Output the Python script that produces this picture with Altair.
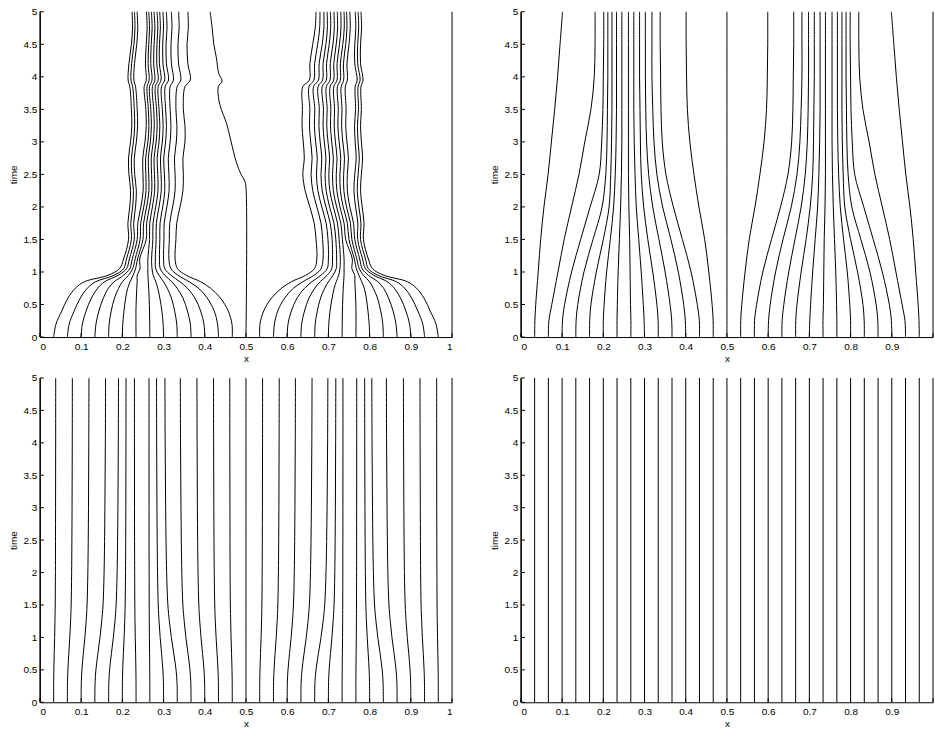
import altair as alt
import pandas as pd

# ---------------- shared ----------------
X_TICKS = [0, 0.1, 0.2, 0.3, 0.4, 0.5, 0.6, 0.7, 0.8, 0.9, 1]
Y_TICKS = [0, 0.5, 1, 1.5, 2, 2.5, 3, 3.5, 4, 4.5, 5]
BOUNDARY_X = [0.0, 1.0]

# ---------------- panel 1 (top-left) ----------------
P1_T = [0, 0.2, 0.4, 0.6, 0.75, 0.85, 0.95, 1.05, 1.2, 1.5, 1.75, 2.0, 2.25, 2.5, 2.75,
        3.0, 3.25, 3.5, 3.85, 3.95, 4.2, 4.5, 4.75, 5.0]
# rows = times, columns = mesh lines k=1..14
P1_LEFT = [
    [0.0333, 0.0667, 0.1, 0.1333, 0.1667, 0.2, 0.2333, 0.2667, 0.3, 0.3333, 0.3667, 0.4, 0.4333, 0.4667],
    [0.039, 0.071, 0.103, 0.136, 0.168, 0.201, 0.233, 0.2665, 0.299, 0.332, 0.365, 0.398, 0.431, 0.466],
    [0.053, 0.083, 0.112, 0.143, 0.173, 0.204, 0.233, 0.266, 0.296, 0.327, 0.358, 0.390, 0.423, 0.457],
    [0.068, 0.098, 0.125, 0.154, 0.181, 0.208, 0.234, 0.265, 0.291, 0.319, 0.347, 0.376, 0.406, 0.438],
    [0.086, 0.115, 0.140, 0.166, 0.191, 0.213, 0.235, 0.264, 0.286, 0.309, 0.333, 0.358, 0.385, 0.414],
    [0.108, 0.135, 0.157, 0.180, 0.200, 0.219, 0.236, 0.263, 0.281, 0.300, 0.320, 0.340, 0.362, 0.390],
    [0.165, 0.180, 0.190, 0.203, 0.215, 0.226, 0.236, 0.262, 0.275, 0.289, 0.303, 0.318, 0.335, 0.355],
    [0.193, 0.203, 0.210, 0.218, 0.225, 0.232, 0.243, 0.262, 0.272, 0.281, 0.292, 0.303, 0.318, 0.334],
    [0.203, 0.210, 0.217, 0.224, 0.231, 0.237, 0.242, 0.262, 0.271, 0.280, 0.290, 0.300, 0.313, 0.328],
    [0.215, 0.222, 0.229, 0.236, 0.243, 0.250, 0.258, 0.266, 0.274, 0.282, 0.291, 0.301, 0.314, 0.330],
    [0.2135, 0.2205, 0.2275, 0.2375, 0.2445, 0.2515, 0.259, 0.2665, 0.2745, 0.2825, 0.2915, 0.3015, 0.315, 0.332],
    [0.218, 0.225, 0.232, 0.245, 0.252, 0.259, 0.266, 0.273, 0.281, 0.289, 0.298, 0.308, 0.322, 0.340],
    [0.220, 0.227, 0.234, 0.2505, 0.2575, 0.2645, 0.2715, 0.2785, 0.2865, 0.2945, 0.303, 0.3135, 0.328, 0.347],
    [0.216, 0.223, 0.230, 0.250, 0.257, 0.264, 0.271, 0.278, 0.286, 0.294, 0.302, 0.313, 0.328, 0.348],
    [0.215, 0.222, 0.229, 0.2495, 0.2565, 0.263, 0.270, 0.277, 0.2845, 0.2925, 0.3005, 0.3115, 0.3265, 0.347],
    [0.220, 0.227, 0.234, 0.255, 0.262, 0.268, 0.275, 0.282, 0.289, 0.297, 0.305, 0.316, 0.331, 0.352],
    [0.223, 0.230, 0.237, 0.258, 0.2645, 0.2705, 0.2775, 0.2845, 0.291, 0.299, 0.307, 0.318, 0.3325, 0.352],
    [0.222, 0.229, 0.236, 0.257, 0.263, 0.269, 0.276, 0.283, 0.289, 0.297, 0.305, 0.316, 0.330, 0.348],
    [0.218, 0.225, 0.232, 0.253, 0.260, 0.266, 0.273, 0.280, 0.287, 0.295, 0.304, 0.316, 0.333, 0.352],
    [0.214, 0.221, 0.228, 0.258, 0.265, 0.272, 0.279, 0.287, 0.294, 0.303, 0.312, 0.324, 0.342, 0.365],
    [0.216, 0.2225, 0.2295, 0.256, 0.2625, 0.269, 0.276, 0.2835, 0.290, 0.2985, 0.307, 0.319, 0.3365, 0.359],
    [0.222, 0.228, 0.235, 0.258, 0.264, 0.270, 0.277, 0.284, 0.290, 0.298, 0.306, 0.318, 0.335, 0.357],
    [0.2248, 0.2307, 0.2374, 0.2602, 0.266, 0.2723, 0.279, 0.2861, 0.2923, 0.2999, 0.3084, 0.3205, 0.3378, 0.3601],
    [0.2236, 0.2293, 0.2358, 0.2584, 0.264, 0.2705, 0.2769, 0.2842, 0.2906, 0.2987, 0.3068, 0.3189, 0.3366, 0.3592],
]
# rows = times, columns = mesh lines k=16..29
P1_RIGHT = [
    [0.5333, 0.5667, 0.6, 0.6333, 0.6667, 0.7, 0.7333, 0.7667, 0.8, 0.8333, 0.8667, 0.9, 0.9333, 0.9667],
    [0.534, 0.569, 0.602, 0.635, 0.668, 0.701, 0.7335, 0.767, 0.799, 0.832, 0.864, 0.897, 0.929, 0.961],
    [0.543, 0.577, 0.610, 0.642, 0.673, 0.704, 0.734, 0.767, 0.796, 0.827, 0.857, 0.888, 0.917, 0.947],
    [0.562, 0.594, 0.624, 0.653, 0.681, 0.709, 0.735, 0.766, 0.792, 0.819, 0.846, 0.875, 0.902, 0.932],
    [0.586, 0.615, 0.642, 0.667, 0.691, 0.714, 0.736, 0.765, 0.787, 0.809, 0.834, 0.860, 0.885, 0.914],
    [0.610, 0.638, 0.660, 0.680, 0.700, 0.719, 0.737, 0.764, 0.781, 0.800, 0.820, 0.843, 0.865, 0.892],
    [0.645, 0.665, 0.682, 0.697, 0.711, 0.725, 0.738, 0.764, 0.774, 0.785, 0.797, 0.810, 0.820, 0.835],
    [0.666, 0.682, 0.697, 0.708, 0.719, 0.728, 0.738, 0.757, 0.768, 0.775, 0.782, 0.790, 0.797, 0.807],
    [0.672, 0.687, 0.700, 0.710, 0.720, 0.729, 0.738, 0.758, 0.763, 0.769, 0.776, 0.783, 0.790, 0.797],
    [0.670, 0.686, 0.699, 0.709, 0.718, 0.726, 0.734, 0.742, 0.750, 0.757, 0.764, 0.771, 0.778, 0.785],
    [0.6655, 0.682, 0.6945, 0.7045, 0.7135, 0.722, 0.730, 0.738, 0.746, 0.7535, 0.761, 0.7715, 0.779, 0.7865],
    [0.655, 0.672, 0.684, 0.694, 0.703, 0.712, 0.720, 0.728, 0.736, 0.744, 0.752, 0.766, 0.774, 0.782],
    [0.6435, 0.662, 0.6745, 0.685, 0.6945, 0.7035, 0.712, 0.7205, 0.729, 0.7375, 0.746, 0.762, 0.770, 0.778],
    [0.638, 0.658, 0.671, 0.682, 0.692, 0.701, 0.710, 0.719, 0.728, 0.737, 0.746, 0.764, 0.772, 0.780],
    [0.6415, 0.6605, 0.673, 0.684, 0.694, 0.703, 0.712, 0.721, 0.730, 0.739, 0.7485, 0.7675, 0.775, 0.783],
    [0.639, 0.657, 0.669, 0.680, 0.690, 0.699, 0.708, 0.717, 0.726, 0.735, 0.745, 0.765, 0.772, 0.780],
    [0.636, 0.654, 0.666, 0.677, 0.687, 0.696, 0.705, 0.714, 0.723, 0.732, 0.742, 0.7635, 0.7705, 0.778],
    [0.637, 0.655, 0.667, 0.678, 0.688, 0.697, 0.706, 0.715, 0.724, 0.733, 0.743, 0.766, 0.773, 0.780],
    [0.638, 0.653, 0.664, 0.675, 0.685, 0.695, 0.704, 0.713, 0.722, 0.731, 0.741, 0.765, 0.772, 0.779],
    [0.654, 0.665, 0.676, 0.686, 0.695, 0.704, 0.713, 0.721, 0.729, 0.737, 0.746, 0.770, 0.777, 0.784],
    [0.655, 0.6665, 0.6775, 0.687, 0.6955, 0.7045, 0.713, 0.721, 0.729, 0.7365, 0.745, 0.764, 0.771, 0.778],
    [0.662, 0.674, 0.685, 0.694, 0.702, 0.711, 0.719, 0.727, 0.735, 0.742, 0.750, 0.764, 0.771, 0.778],
    [0.668, 0.6788, 0.689, 0.6975, 0.7055, 0.7143, 0.7223, 0.7305, 0.7385, 0.745, 0.753, 0.7665, 0.7735, 0.7805],
    [0.670, 0.6795, 0.689, 0.697, 0.705, 0.7135, 0.7215, 0.730, 0.738, 0.744, 0.752, 0.765, 0.772, 0.779],
]
# centre mesh line (k=15)
P1_MID_T = [0, 2.3, 2.4, 2.5, 2.7, 3.0, 3.3, 3.5, 3.65, 3.85, 3.93, 4.05, 4.3, 4.5, 4.75, 5.0]
P1_MID_X = [0.5, 0.5, 0.497, 0.488, 0.476, 0.464, 0.452, 0.440, 0.434, 0.433, 0.442, 0.434, 0.428, 0.422, 0.418, 0.413]

# ---------------- panel 2 (top-right) ----------------
P2_T = [0, 0.25, 0.5, 1, 1.5, 2, 2.5, 3, 3.5, 4, 4.5, 5]
# one row per mesh line (k=1..29)
P2_LINES = [
    [0.0333, 0.034, 0.036, 0.042, 0.048, 0.056, 0.066, 0.074, 0.082, 0.089, 0.095, 0.101],
    [0.0667, 0.068, 0.075, 0.090, 0.105, 0.123, 0.141, 0.155, 0.170, 0.178, 0.180, 0.180],
    [0.1, 0.101, 0.106, 0.123, 0.145, 0.168, 0.190, 0.196, 0.199, 0.200, 0.201, 0.201],
    [0.1333, 0.134, 0.138, 0.153, 0.175, 0.197, 0.206, 0.209, 0.210, 0.211, 0.211, 0.211],
    [0.1667, 0.167, 0.170, 0.183, 0.200, 0.214, 0.218, 0.220, 0.221, 0.221, 0.221, 0.221],
    [0.2, 0.2, 0.202, 0.208, 0.217, 0.225, 0.229, 0.231, 0.232, 0.232, 0.232, 0.232],
    [0.2333, 0.2333, 0.234, 0.236, 0.239, 0.242, 0.244, 0.245, 0.245, 0.245, 0.245, 0.245],
    [0.2667, 0.267, 0.266, 0.265, 0.264, 0.262, 0.261, 0.261, 0.261, 0.261, 0.261, 0.261],
    [0.3, 0.299, 0.297, 0.292, 0.286, 0.280, 0.277, 0.275, 0.274, 0.274, 0.274, 0.274],
    [0.3333, 0.333, 0.330, 0.320, 0.308, 0.298, 0.292, 0.290, 0.289, 0.288, 0.288, 0.288],
    [0.3667, 0.366, 0.362, 0.350, 0.335, 0.320, 0.310, 0.305, 0.303, 0.302, 0.302, 0.302],
    [0.4, 0.399, 0.395, 0.382, 0.364, 0.344, 0.330, 0.323, 0.320, 0.318, 0.318, 0.318],
    [0.4333, 0.433, 0.428, 0.413, 0.392, 0.370, 0.352, 0.343, 0.340, 0.339, 0.338, 0.338],
    [0.4667, 0.4665, 0.464, 0.456, 0.446, 0.432, 0.420, 0.410, 0.404, 0.402, 0.401, 0.401],
    [0.5, 0.5, 0.5, 0.5, 0.5, 0.5, 0.5, 0.5, 0.5, 0.5, 0.5, 0.5],
    [0.5333, 0.5335, 0.536, 0.544, 0.554, 0.568, 0.580, 0.590, 0.596, 0.598, 0.599, 0.599],
    [0.5667, 0.567, 0.572, 0.587, 0.608, 0.630, 0.648, 0.657, 0.660, 0.661, 0.662, 0.662],
    [0.6, 0.601, 0.605, 0.618, 0.636, 0.656, 0.670, 0.677, 0.680, 0.682, 0.682, 0.682],
    [0.6333, 0.634, 0.638, 0.650, 0.665, 0.680, 0.690, 0.695, 0.697, 0.698, 0.698, 0.698],
    [0.6667, 0.667, 0.670, 0.680, 0.692, 0.702, 0.708, 0.710, 0.711, 0.712, 0.712, 0.712],
    [0.7, 0.701, 0.703, 0.708, 0.714, 0.720, 0.723, 0.725, 0.726, 0.726, 0.726, 0.726],
    [0.7333, 0.733, 0.734, 0.735, 0.736, 0.738, 0.739, 0.739, 0.739, 0.739, 0.739, 0.739],
    [0.7667, 0.7667, 0.766, 0.764, 0.761, 0.758, 0.756, 0.755, 0.755, 0.755, 0.755, 0.755],
    [0.8, 0.8, 0.798, 0.792, 0.783, 0.775, 0.771, 0.769, 0.768, 0.768, 0.768, 0.768],
    [0.8333, 0.833, 0.830, 0.817, 0.800, 0.786, 0.782, 0.780, 0.779, 0.779, 0.779, 0.779],
    [0.8667, 0.866, 0.862, 0.847, 0.825, 0.803, 0.794, 0.791, 0.790, 0.789, 0.789, 0.789],
    [0.9, 0.899, 0.894, 0.877, 0.855, 0.832, 0.810, 0.804, 0.801, 0.800, 0.799, 0.799],
    [0.9333, 0.932, 0.925, 0.910, 0.895, 0.877, 0.859, 0.845, 0.830, 0.822, 0.820, 0.820],
    [0.9667, 0.966, 0.964, 0.958, 0.952, 0.944, 0.934, 0.926, 0.918, 0.911, 0.905, 0.899],
]

# ---------------- panel 3 (bottom-left) ----------------
P3_T = [0, 0.3, 0.5, 0.75, 1.0, 1.25, 1.5, 2.0, 3.0, 4.0, 5.0]
P3_LINES = [
    [0.0333, 0.0334, 0.0338, 0.0347, 0.0357, 0.0365, 0.0371, 0.0376, 0.0380, 0.0382, 0.0383],
    [0.0667, 0.0669, 0.0679, 0.0701, 0.0725, 0.0744, 0.0758, 0.0770, 0.0780, 0.0785, 0.0787],
    [0.1, 0.1004, 0.1019, 0.1053, 0.1091, 0.1122, 0.1144, 0.1163, 0.1179, 0.1186, 0.119],
    [0.1333, 0.1338, 0.1359, 0.1406, 0.1458, 0.1499, 0.1531, 0.1557, 0.1577, 0.1588, 0.1593],
    [0.1667, 0.1672, 0.1691, 0.1734, 0.1782, 0.1821, 0.1849, 0.1873, 0.1893, 0.1902, 0.1907],
    [0.2, 0.2002, 0.2009, 0.2025, 0.2043, 0.2058, 0.2068, 0.2077, 0.2085, 0.2088, 0.209],
    [0.2333, 0.2332, 0.2329, 0.2322, 0.2314, 0.2307, 0.2303, 0.2299, 0.2295, 0.2294, 0.2293],
    [0.2667, 0.2667, 0.2665, 0.2661, 0.2657, 0.2654, 0.2652, 0.2650, 0.2648, 0.2647, 0.2647],
    [0.3, 0.2997, 0.2983, 0.2952, 0.2918, 0.2891, 0.2871, 0.2854, 0.284, 0.2833, 0.283],
    [0.3333, 0.3327, 0.3303, 0.3249, 0.3189, 0.3141, 0.3105, 0.3075, 0.3051, 0.3039, 0.3033],
    [0.3667, 0.3662, 0.3641, 0.3594, 0.3542, 0.3501, 0.3469, 0.3443, 0.3423, 0.3412, 0.3407],
    [0.4, 0.3996, 0.3981, 0.3947, 0.3909, 0.3878, 0.3856, 0.3837, 0.3821, 0.3814, 0.381],
    [0.4333, 0.4331, 0.4321, 0.4299, 0.4275, 0.4256, 0.4242, 0.423, 0.422, 0.4215, 0.4213],
    [0.4667, 0.4666, 0.4661, 0.465, 0.4638, 0.4629, 0.4621, 0.4615, 0.4611, 0.4608, 0.4607],
    [0.5, 0.5, 0.5, 0.5, 0.5, 0.5, 0.5, 0.5, 0.5, 0.5, 0.5],
    [0.5333, 0.5334, 0.534, 0.5353, 0.5367, 0.5378, 0.5386, 0.5393, 0.5399, 0.5402, 0.5403],
    [0.5667, 0.567, 0.5681, 0.5706, 0.5734, 0.5757, 0.5773, 0.5787, 0.5799, 0.5804, 0.5807],
    [0.6, 0.6004, 0.602, 0.6056, 0.6096, 0.6128, 0.6152, 0.6172, 0.6188, 0.6196, 0.62],
    [0.6333, 0.6338, 0.636, 0.6409, 0.6463, 0.6506, 0.6538, 0.6565, 0.6587, 0.6598, 0.6603],
    [0.6667, 0.6673, 0.6699, 0.6757, 0.6821, 0.6872, 0.691, 0.6942, 0.6968, 0.6981, 0.6987],
    [0.7, 0.7004, 0.7018, 0.705, 0.7086, 0.7115, 0.7137, 0.7155, 0.7169, 0.7176, 0.718],
    [0.7333, 0.7333, 0.7335, 0.7339, 0.7343, 0.7346, 0.7348, 0.735, 0.7352, 0.7353, 0.7353],
    [0.7667, 0.7667, 0.7669, 0.7673, 0.7677, 0.768, 0.7682, 0.7684, 0.7686, 0.7687, 0.7687],
    [0.8, 0.7998, 0.7988, 0.7966, 0.7942, 0.7923, 0.7909, 0.7897, 0.7887, 0.7882, 0.788],
    [0.8333, 0.8327, 0.8305, 0.8255, 0.8199, 0.8154, 0.812, 0.8092, 0.807, 0.8059, 0.8053],
    [0.8667, 0.8662, 0.8641, 0.8594, 0.8542, 0.8501, 0.8469, 0.8443, 0.8423, 0.8412, 0.8407],
    [0.9, 0.8996, 0.8982, 0.895, 0.8914, 0.8885, 0.8863, 0.8845, 0.8831, 0.8824, 0.882],
    [0.9333, 0.9331, 0.9322, 0.9302, 0.928, 0.9263, 0.9249, 0.9238, 0.923, 0.9225, 0.9223],
    [0.9667, 0.9666, 0.9663, 0.9656, 0.9648, 0.9641, 0.9637, 0.9633, 0.9629, 0.9628, 0.9627],
]

# ---------------- panel 4 (bottom-right) ----------------
P4_T = [0, 5]
P4_X = [0.0333, 0.0667, 0.1, 0.1333, 0.1667, 0.2, 0.2333, 0.2667, 0.3, 0.3333,
        0.3667, 0.4, 0.4333, 0.4667, 0.5, 0.5333, 0.5667, 0.6, 0.6333, 0.6667,
        0.7, 0.7333, 0.7667, 0.8, 0.8333, 0.8667, 0.9, 0.9333, 0.9667]


def boundary_records():
    recs = []
    for i, bx in enumerate(BOUNDARY_X):
        recs.append(("b%d" % i, 0.0, bx))
        recs.append(("b%d" % i, 5.0, bx))
    return recs


def df_panel1():
    recs = boundary_records()
    for ti, t in enumerate(P1_T):
        for j, xv in enumerate(P1_LEFT[ti]):
            recs.append(("L%d" % j, t, xv))
        for j, xv in enumerate(P1_RIGHT[ti]):
            recs.append(("R%d" % j, t, xv))
    for t, xv in zip(P1_MID_T, P1_MID_X):
        recs.append(("M", t, xv))
    return pd.DataFrame(recs, columns=["line", "t", "x"])


def df_from_lines(times, lines):
    recs = boundary_records()
    for j, row in enumerate(lines):
        for t, xv in zip(times, row):
            recs.append(("k%d" % j, t, xv))
    return pd.DataFrame(recs, columns=["line", "t", "x"])


def df_panel4():
    recs = boundary_records()
    for j, xv in enumerate(P4_X):
        for t in P4_T:
            recs.append(("k%d" % j, t, xv))
    return pd.DataFrame(recs, columns=["line", "t", "x"])


W = 413
XS = alt.Scale(domain=[0, 1], nice=False, zero=False)
YS = alt.Scale(domain=[0, 5], nice=False, zero=False)
YA = alt.Axis(values=Y_TICKS, format="~g", title="time", labelPadding=3, titlePadding=5)


def panel(df, h, interp, cut_last_label=False):
    if cut_last_label:
        xa = alt.Axis(values=X_TICKS, format="~g", title="x", labelPadding=4, titlePadding=2,
                      labelExpr="datum.value >= 1 ? '' : datum.label")
    else:
        xa = alt.Axis(values=X_TICKS, format="~g", title="x", labelPadding=4, titlePadding=2)
    lines = alt.Chart(df).mark_line(color="black", strokeWidth=1, interpolate=interp).encode(
        x=alt.X("x:Q", scale=XS, axis=xa),
        y=alt.Y("t:Q", scale=YS, axis=YA),
        detail="line:N",
        order="t:Q",
    )
    xt = alt.Chart(pd.DataFrame({"x": X_TICKS})).mark_rule(color="black", strokeWidth=1).encode(
        x=alt.X("x:Q", scale=XS, axis=xa), y=alt.value(h), y2=alt.value(h - 4))
    yt = alt.Chart(pd.DataFrame({"t": Y_TICKS})).mark_rule(color="black", strokeWidth=1).encode(
        y=alt.Y("t:Q", scale=YS, axis=YA), x=alt.value(0), x2=alt.value(4))
    return alt.layer(lines, xt, yt).properties(width=W, height=h)


p1 = panel(df_panel1(), 326, "catmull-rom")
p2 = panel(df_from_lines(P2_T, P2_LINES), 326, "catmull-rom", cut_last_label=True)
p3 = panel(df_from_lines(P3_T, P3_LINES), 325, "catmull-rom")
p4 = panel(df_panel4(), 325, "linear", cut_last_label=True)

chart = alt.concat(p1, p2, p3, p4, columns=2,
                   spacing=alt.RowColnumber(row=41, column=69), bounds="flush").properties(
    padding={"left": 8, "top": 6, "right": 0, "bottom": 0}
).configure_view(stroke=None).configure_axis(
    grid=False, ticks=False, domainColor="black", domainWidth=1,
    labelColor="black", titleColor="black",
    labelFont="Liberation Sans", titleFont="Liberation Sans",
    labelFontSize=10, titleFontSize=10, titleFontWeight="normal",
)

chart.save("out.html", embed_options={"renderer": "svg", "actions": False})
